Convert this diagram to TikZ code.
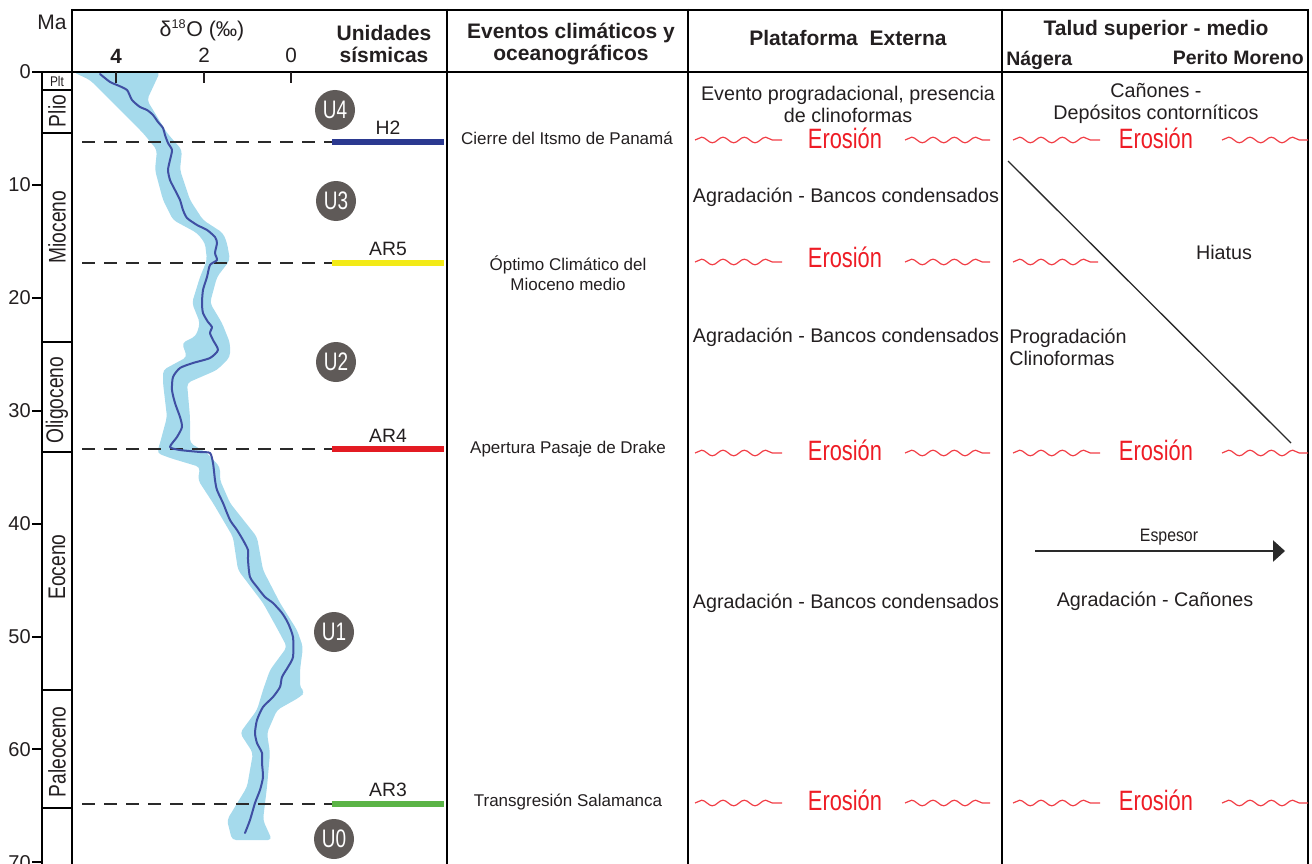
\documentclass[tikz,border=0pt]{standalone}
\usepackage{fontspec}
\setmainfont{Liberation Sans}
\usepackage{graphicx}
\usetikzlibrary{decorations.pathmorphing,arrows.meta}
\definecolor{bandc}{HTML}{A5DAEC}
\definecolor{curvec}{HTML}{3F4FA3}
\definecolor{hblue}{HTML}{2B3990}
\definecolor{hyellow}{HTML}{F3EA16}
\definecolor{hred}{HTML}{E31B23}
\definecolor{hgreen}{HTML}{5BB446}
\definecolor{unitgray}{HTML}{5F5A58}
\definecolor{erored}{HTML}{EE1C25}
\definecolor{txtc}{HTML}{231F20}
\definecolor{dashc}{HTML}{2A2A2A}
\newcommand{\fsz}[2]{\fontsize{#1pt}{#2pt}\selectfont}
\newcommand{\cnd}[2]{\scalebox{#1}[1]{#2}}
\begin{document}
\begin{tikzpicture}[x=0.75pt,y=-0.75pt,
  framel/.style={line width=1.9pt,black},
  epochl/.style={line width=1.5pt,black},
  hdr/.style={font=\fsz{15.75}{16.5}\bfseries,align=center,inner sep=0,text=txtc},
  txt/.style={font=\fsz{14.8}{16.5},align=center,inner sep=0,text=txtc},
  evt/.style={font=\fsz{12.75}{15},align=center,inner sep=0,text=txtc},
  ero/.style={font=\fsz{21}{22},inner sep=0,text=erored},
  wavy/.style={draw=erored!85,line width=0.9pt,decorate,decoration={snake,segment length=16pt,amplitude=2.1pt}},
  hdash/.style={dashc,line width=1.6pt,dash pattern=on 9.5pt off 7pt},
  hor/.style={line width=4.5pt},
  hlab/.style={font=\fsz{14.5}{15},inner sep=0,text=txtc},
  unitc/.style={circle,fill=unitgray,text=white,minimum size=30pt,inner sep=0,font=\fsz{19}{20}},
  epo/.style={rotate=90,inner sep=0,font=\fsz{18}{20},text=txtc},
  tickl/.style={anchor=east,inner sep=0,font=\fsz{15}{16},text=txtc}
]
\useasboundingbox (0,0) rectangle (1312,863);
% ---- isotope band ----
\fill[bandc,rounded corners=3pt] (73,72) -- (90,80) -- (110,100) -- (125,115) -- (143,133) -- (157,150) -- (155,170) -- (163,200) -- (173,220) -- (197,233) -- (205,243) -- (207,260) -- (200,277) -- (192,303) -- (200,323) -- (196,336) -- (182,343) -- (187,357) -- (163,370) -- (163,383) -- (167,417) -- (160,443) -- (157,453) -- (170,458) -- (200,467) -- (198,480) -- (213,503) -- (233,537) -- (238,570) -- (263,603) -- (278,630) -- (287,647) -- (270,670) -- (263,690) -- (257,710) -- (240,733) -- (253,753) -- (247,787) -- (227,820) -- (232,840)
 -- (272,840) -- (263,820) -- (267,787) -- (270,753) -- (267,733) -- (277,710) -- (300,697) -- (305,692) -- (300,688) -- (300,670) -- (303,647) -- (297,630) -- (280,603) -- (263,570) -- (257,537) -- (230,503) -- (220,480) -- (220,467) -- (207,453) -- (190,443) -- (190,417) -- (187,383) -- (217,370) -- (230,357) -- (230,343) -- (222,323) -- (210,303) -- (217,277) -- (230,260) -- (227,243) -- (223,233) -- (203,220) -- (190,200) -- (180,170) -- (182,150) -- (167,133) -- (147,100) -- (160,72) -- cycle;
% ---- horizons ----
\coordinate (h2a) at (82,142);  \coordinate (h2b) at (332,142); \coordinate (h2c) at (444,142);
\coordinate (a5a) at (82,263);  \coordinate (a5b) at (332,263); \coordinate (a5c) at (444,263);
\coordinate (a4a) at (82,449);  \coordinate (a4b) at (332,449); \coordinate (a4c) at (444,449);
\coordinate (a3a) at (82,804);  \coordinate (a3b) at (332,804); \coordinate (a3c) at (444,804);
\draw[hdash] (h2a) -- (h2b); \draw[hor,hblue] (h2b) -- (h2c);
\draw[hdash] (a5a) -- (a5b); \draw[hor,hyellow] (a5b) -- (a5c);
\draw[hdash] (a4a) -- (a4b); \draw[hor,hred] (a4b) -- (a4c);
\draw[hdash] (a3a) -- (a3b); \draw[hor,hgreen] (a3b) -- (a3c);
\node[hlab] (lh2) at (388,128) {H2};
\node[hlab] (la5) at (388,249) {AR5};
\node[hlab] (la4) at (388,436) {AR4};
\node[hlab] (la3) at (388,790) {AR3};
% ---- isotope curve ----
\draw[curvec,line width=1.5pt,line join=round,line cap=round] plot[smooth,tension=0.4] coordinates {(100,74) (110,82) (117,85) (127,90) (132,100) (140,107) (147,110) (153,115) (158,122) (163,128) (165,135) (168,143) (172,150) (170,160) (168,170) (170,180) (175,190) (180,200) (183,210) (187,218) (197,225) (207,230) (215,237) (217,243) (215,253) (217,260) (210,265) (207,277) (203,290) (202,303) (203,313) (208,322) (212,327) (210,333) (213,340) (218,350) (210,358) (193,363) (180,368) (173,377) (172,390) (175,403) (180,417) (182,427) (177,437) (170,447) (180,450) (200,452) (210,453) (213,463) (215,480) (217,490) (223,503) (230,520) (237,530) (243,540) (248,550) (248,560) (250,577) (257,587) (265,597) (273,603) (282,613) (288,623) (293,637) (293,657) (288,667) (282,677) (280,687) (273,697) (263,707) (257,720) (255,733) (257,743) (262,753) (262,763) (263,777) (260,790) (255,803) (250,820) (245,833)};
% ---- units ----
\node[unitc] (u4) at (335,110) {\cnd{0.75}{U4}};
\node[unitc] (u3) at (336,201) {\cnd{0.75}{U3}};
\node[unitc] (u2) at (336,362) {\cnd{0.75}{U2}};
\node[unitc] (u1) at (334,632) {\cnd{0.75}{U1}};
\node[unitc] (u0) at (334,839) {\cnd{0.75}{U0}};
% ---- frame ----
\draw[framel] (72,10) -- (1309,10);
\draw[framel] (40,72) -- (1309,72);
\foreach \xx in {72,447,688,1002,1308} {\draw[framel] (\xx,9) -- (\xx,870);}
\draw[epochl] (42,72) -- (42,870);
\foreach \yy in {90,133,342,452,690,808} {\draw[epochl] (42,\yy) -- (72,\yy);}
\foreach \m in {0,10,...,70} {
  \pgfmathsetmacro\yy{72+11.29*\m}
  \draw[epochl] (32,\yy) -- (42,\yy);
  \node[tickl] (t\m) at (31,\yy) {\m};
}
% isotope axis ticks
\foreach \xx/\nm in {116/a,204/b,291/c} {\draw[line width=1.3pt,txtc] (\xx,72) -- (\xx,83);}
\node[inner sep=0,font=\fsz{15.5}{16}\bfseries,text=txtc] (v4) at (116,56) {4};
\node[inner sep=0,font=\fsz{15.5}{16},text=txtc] (v2) at (204,55) {2};
\node[inner sep=0,font=\fsz{15.5}{16},text=txtc] (v0) at (291,55) {0};
\node[inner sep=0,font=\fsz{16}{17},text=txtc] (d18) at (202,30) {δ\textsuperscript{\fsz{9.5}{10}18}O (‰)};
\node[inner sep=0,font=\fsz{15.75}{17},text=txtc] (ma) at (52,22) {Ma};
% epochs
\node[inner sep=0,font=\fsz{10.5}{11},text=txtc] (plt) at (57,81) {\cnd{0.85}{Plt}};
\node[epo] (plio) at (57,111) {\cnd{0.8}{Plio}};
\node[epo] (mio) at (57,227) {\cnd{0.8}{Mioceno}};
\node[epo] (oli) at (57,400) {\cnd{0.8}{Oligoceno}};
\node[epo] (eoc) at (57,567) {\cnd{0.8}{Eoceno}};
\node[epo] (pal) at (57,752) {\cnd{0.8}{Paleoceno}};
% ---- headers ----
\node[hdr] (hu) at (384,44) {Unidades\\sísmicas};
\node[hdr] (he) at (571,44) {Eventos climáticos y\\oceanográficos};
\node[hdr] (hp) at (848,38) {Plataforma\ \ Externa};
\node[hdr] (ht) at (1156,30) {Talud superior - medio};
\node[hdr,anchor=west,font=\fsz{14.6}{16}\bfseries] (hn) at (1006,60) {Nágera};
\node[hdr,anchor=east,font=\fsz{14.6}{16}\bfseries] (hpm) at (1304,58) {Perito Moreno};
% ---- events ----
\node[evt] (e1) at (567,138) {Cierre del Itsmo de Panamá};
\node[evt] (e2) at (568,273) {Óptimo Climático del\\Mioceno medio};
\node[evt] (e3) at (568,449) {Apertura Pasaje de Drake};
\node[evt] (e4) at (568,802) {Transgresión Salamanca};
% ---- plataforma ----
\node[txt] (p1) at (848,104) {Evento progradacional, presencia\\de clinoformas};
\node[txt] (p2) at (846,197) {Agradación - Bancos condensados};
\node[txt] (p3) at (846,337) {Agradación - Bancos condensados};
\node[txt] (p4) at (846,603) {Agradación - Bancos condensados};
\foreach \yy/\ey/\k in {140/138/1,262/257/2,453/450/3,803/800/4} {
  \node[ero] (pe\k) at (845,\ey) {\cnd{0.78}{Erosión}};
  \draw[wavy] (695,\yy) -- (782,\yy);
  \draw[wavy] (905,\yy) -- (990,\yy);
}
% ---- talud ----
\node[txt] (c1) at (1156,103) {Cañones -\\Depósitos contorníticos};
\foreach \yy/\ey/\k in {140/138/1,453/450/3,803/800/4} {
  \node[ero] (te\k) at (1156,\ey) {\cnd{0.78}{Erosión}};
  \draw[wavy] (1013,\yy) -- (1100,\yy);
  \draw[wavy] (1222,\yy) -- (1308,\yy);
}
\draw[wavy] (1013,262) -- (1098,262);
\coordinate (dg1) at (1008,161);
\coordinate (dg2) at (1291,443);
\draw[line width=1pt,dashc] (dg1) -- (dg2);
\node[txt] (hiat) at (1224,252) {Hiatus};
\node[txt,anchor=west,align=left] (prog) at (1009,347) {Progradación\\Clinoformas};
\coordinate (ar1) at (1035,551);
\coordinate (ar2) at (1285,551);
\draw[line width=1pt,dashc,-{Triangle[length=9pt,width=16pt]}] (ar1) -- (ar2);
\node[inner sep=0,font=\fsz{13.5}{14},text=txtc] (esp) at (1169,537) {\cnd{0.88}{Espesor}};
\node[txt] (agc) at (1155,601) {Agradación - Cañones};
\end{tikzpicture}
\end{document}
